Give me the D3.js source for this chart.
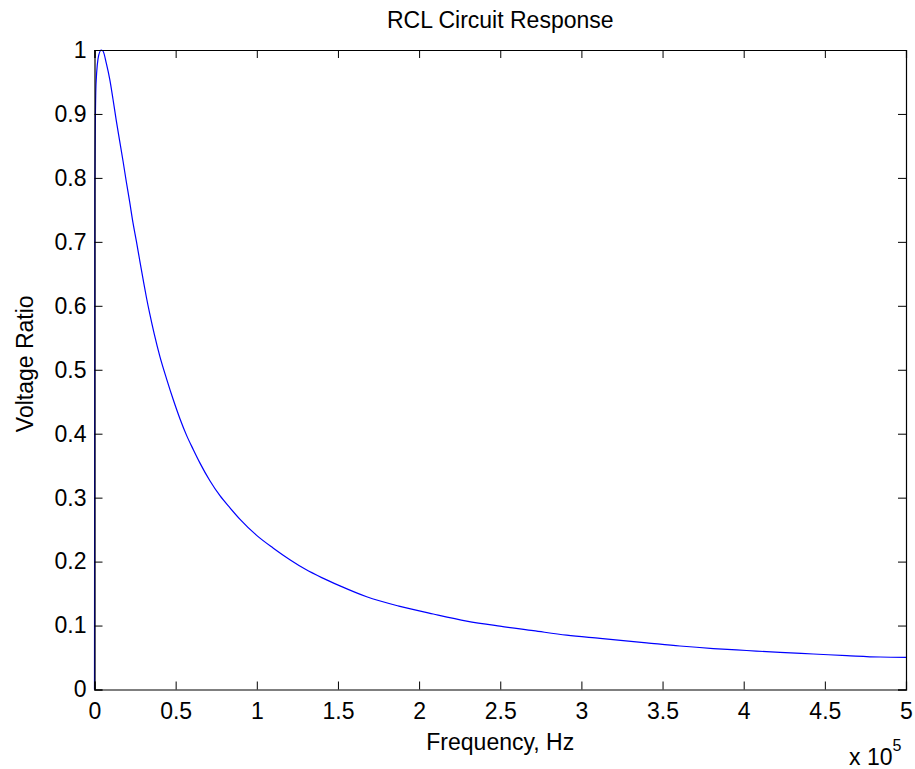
<!DOCTYPE html>
<html>
<head>
<meta charset="utf-8">
<script src="https://cdn.jsdelivr.net/npm/d3@7"></script>
<style>
  html, body { margin: 0; padding: 0; background: #fff; }
  svg { display: block; font-family: "Liberation Sans", Arial, sans-serif; }
</style>
</head>
<body>
<svg id="chart" width="915" height="769"></svg>
<script>
// Frequency samples (Hz) and voltage ratio
const frequency = [0, 200, 950, 2600, 4200, 5300, 7300, 9400, 11400, 13400, 15500, 17600, 19600, 21700, 23700, 25800, 27800, 29900, 32000, 34000, 36800, 40350, 44500, 48550, 52700, 56800, 60900, 65000, 71200, 77300, 83500, 89700, 99900, 110200, 120400, 130000, 140000, 151250, 167700, 188200, 208700, 229300, 249800, 270400, 290900, 311500, 340200, 360700, 381300, 401800, 422400, 442900, 463500, 484000, 500000];
const voltageRatio = [0, 0.776, 0.948, 0.992, 1.0, 0.998, 0.979, 0.954, 0.923, 0.890, 0.858, 0.826, 0.794, 0.762, 0.730, 0.701, 0.672, 0.642, 0.613, 0.588, 0.556, 0.520, 0.485, 0.453, 0.423, 0.397, 0.375, 0.354, 0.326, 0.303, 0.284, 0.266, 0.241, 0.221, 0.203, 0.188, 0.175, 0.162, 0.145, 0.130, 0.118, 0.107, 0.099, 0.092, 0.085, 0.080, 0.073, 0.068, 0.064, 0.061, 0.058, 0.0555, 0.053, 0.0508, 0.0503];
const xTicks = [0, 0.5e5, 1e5, 1.5e5, 2e5, 2.5e5, 3e5, 3.5e5, 4e5, 4.5e5, 5e5];
const xTickLabels = ["0", "0.5", "1", "1.5", "2", "2.5", "3", "3.5", "4", "4.5", "5"];
const yTicks = [0, 0.1, 0.2, 0.3, 0.4, 0.5, 0.6, 0.7, 0.8, 0.9, 1];
const yTickLabels = ["0", "0.1", "0.2", "0.3", "0.4", "0.5", "0.6", "0.7", "0.8", "0.9", "1"];
const titleText = "RCL Circuit Response";
const xLabelText = "Frequency, Hz";
const yLabelText = "Voltage Ratio";

const plotLeft = 94.5, plotRight = 906, plotTop = 50, plotBottom = 689.5;
const svg = d3.select("#chart");
const x = d3.scaleLinear().domain([0, 5e5]).range([plotLeft, plotRight]);
const y = d3.scaleLinear().domain([0, 1]).range([plotBottom, plotTop]);
const fontSize = 23;

// curve
const data = frequency.map((f, i) => [f, voltageRatio[i]]);
svg.append("path")
  .datum(data)
  .attr("fill", "none")
  .attr("stroke", "#0000ff")
  .attr("stroke-width", 1.2)
  .attr("d", d3.line().curve(d3.curveMonotoneX).x(d => x(d[0])).y(d => y(d[1])));

// axes (ticks inward, box)
const tickLen = 8;
const axisBottom = d3.axisBottom(x).tickValues(xTicks).tickSize(-tickLen).tickPadding(13)
  .tickFormat((d, i) => xTickLabels[i]);
const axisTop = d3.axisTop(x).tickValues(xTicks).tickSize(-tickLen).tickFormat("");
const axisLeft = d3.axisLeft(y).tickValues(yTicks).tickSize(-tickLen).tickPadding(8)
  .tickFormat((d, i) => yTickLabels[i]);
const axisRight = d3.axisRight(y).tickValues(yTicks).tickSize(-tickLen).tickFormat("");

function style(g) {
  g.select(".domain").attr("stroke", "#000").attr("stroke-width", 1.2);
  g.selectAll(".tick line").attr("stroke", "#000").attr("stroke-width", 1);
  g.selectAll(".tick text").attr("fill", "#000").attr("font-size", fontSize)
    .attr("font-family", "Liberation Sans, Arial, sans-serif");
}
svg.append("g").attr("transform", `translate(0,${plotBottom})`).call(axisBottom).call(style);
svg.append("g").attr("transform", `translate(0,${plotTop})`).call(axisTop).call(style);
svg.append("g").attr("transform", `translate(${plotLeft},0)`).call(axisLeft).call(style);
svg.append("g").attr("transform", `translate(${plotRight},0)`).call(axisRight).call(style);

// title and labels
svg.append("text").attr("x", (plotLeft + plotRight) / 2).attr("y", 28)
  .attr("text-anchor", "middle").attr("font-size", fontSize).text(titleText);
svg.append("text").attr("x", (plotLeft + plotRight) / 2).attr("y", 750)
  .attr("text-anchor", "middle").attr("font-size", fontSize).text(xLabelText);
svg.append("text").attr("transform", `translate(33,${(plotTop + plotBottom) / 2 - 6}) rotate(-90)`)
  .attr("text-anchor", "middle").attr("font-size", fontSize).text(yLabelText);

// exponent label
const ex = svg.append("text").attr("x", 849).attr("y", 765).attr("font-size", fontSize);
ex.append("tspan").text("x 10");
ex.append("tspan").attr("dy", -14).attr("font-size", 16).text("5");
</script>
</body>
</html>
